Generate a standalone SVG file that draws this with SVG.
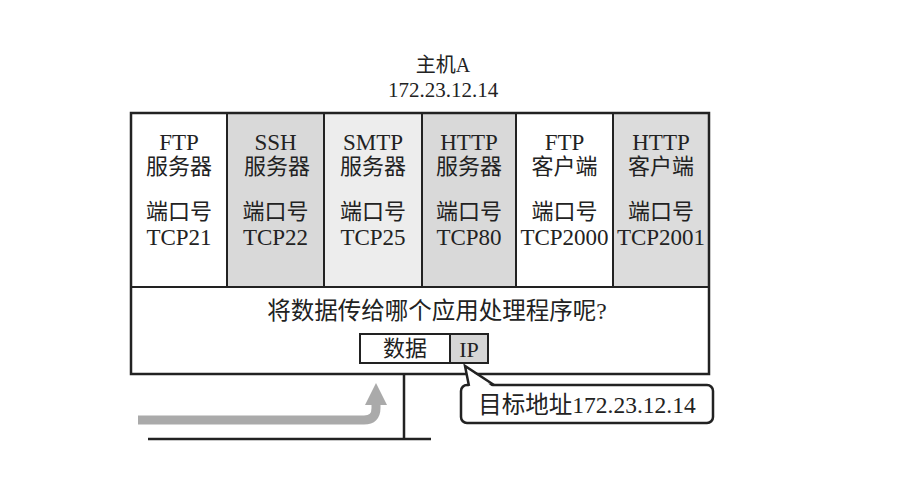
<svg xmlns="http://www.w3.org/2000/svg" width="916" height="478" viewBox="0 0 916 478">
<style>
.t{font-family:"Liberation Serif","Noto Sans CJK SC",serif;font-size:23px;fill:#222;text-anchor:middle}
.c{font-family:"Liberation Serif","Noto Sans CJK SC",serif;font-size:22px;fill:#222;text-anchor:middle}
.ln{stroke:#222;stroke-width:2.5}
.dv{stroke:#222;stroke-width:2}
</style>
<rect width="916" height="478" fill="#fff"/>
<g id="title">
<text class="t" x="443" y="72" style="font-size:20px">主机A</text>
<text class="t" x="443" y="97" style="font-size:21px">172.23.12.14</text>
</g>
<g id="ftp-server">
<rect x="131" y="113" width="96" height="174" fill="#fff"/>
<text class="t" x="179" y="150">FTP</text>
<text class="c" x="179" y="174">服务器</text>
<text class="c" x="179" y="219">端口号</text>
<text class="t" x="179" y="245">TCP21</text>
</g>
<g id="ssh-server">
<rect x="227" y="113" width="97" height="174" fill="#d9d9d9"/>
<text class="t" x="275.5" y="150">SSH</text>
<text class="c" x="277" y="174">服务器</text>
<text class="c" x="275.5" y="219">端口号</text>
<text class="t" x="275.5" y="245">TCP22</text>
</g>
<g id="smtp-server">
<rect x="324" y="113" width="98" height="174" fill="#ededed"/>
<text class="t" x="373" y="150">SMTP</text>
<text class="c" x="373" y="174">服务器</text>
<text class="c" x="373" y="219">端口号</text>
<text class="t" x="373" y="245">TCP25</text>
</g>
<g id="http-server">
<rect x="422" y="113" width="94" height="174" fill="#d9d9d9"/>
<text class="t" x="469" y="150">HTTP</text>
<text class="c" x="469" y="174">服务器</text>
<text class="c" x="469" y="219">端口号</text>
<text class="t" x="469" y="245">TCP80</text>
</g>
<g id="ftp-client">
<rect x="516" y="113" width="97" height="174" fill="#fff"/>
<text class="t" x="564.5" y="150">FTP</text>
<text class="c" x="564.5" y="174">客户端</text>
<text class="c" x="564.5" y="219">端口号</text>
<text class="t" x="564.5" y="245">TCP2000</text>
</g>
<g id="http-client">
<rect x="613" y="113" width="96" height="174" fill="#dcdcdc"/>
<text class="t" x="661" y="150">HTTP</text>
<text class="c" x="661" y="174">客户端</text>
<text class="c" x="661" y="219">端口号</text>
<text class="t" x="661" y="245">TCP2001</text>
</g>
<g id="hostA">
<rect x="131" y="113" width="578" height="261" fill="none" class="ln"/>
<path class="dv" fill="none" d="M227,113V287M324,113V287M422,113V287M516,113V287M613,113V287M131,287H709"/>
<text class="c" x="437" y="319" style="font-size:23.5px">将数据传给哪个应用处理程序呢?</text>
</g>
<g id="packet">
<rect x="360" y="334" width="90" height="29" fill="#fff" class="dv"/>
<rect x="450" y="334" width="38" height="29" fill="#d6d6d6" class="dv"/>
<text class="c" x="405" y="356" style="font-size:22px">数据</text>
<text class="t" x="469" y="357" style="font-size:22px">IP</text>
</g>
<g id="connectors">
<path d="M404,374V439M148,439H431" fill="none" class="ln"/>
<path d="M138,420H364Q376,420 376,408V402" stroke="#aaa" stroke-width="9" fill="none"/>
<polygon points="365,405 376,383 387,405" fill="#aaa"/>
</g>
<g id="callout">
<rect x="461" y="385" width="252" height="38" rx="6" fill="#fff" class="ln"/>
<polygon points="469,388 465,366 494,388" fill="#fff"/>
<polyline points="469,386 465,366 494,385" fill="none" class="ln"/>
<text class="t" x="587" y="413" style="font-size:23.5px">目标地址172.23.12.14</text>
</g>
</svg>
